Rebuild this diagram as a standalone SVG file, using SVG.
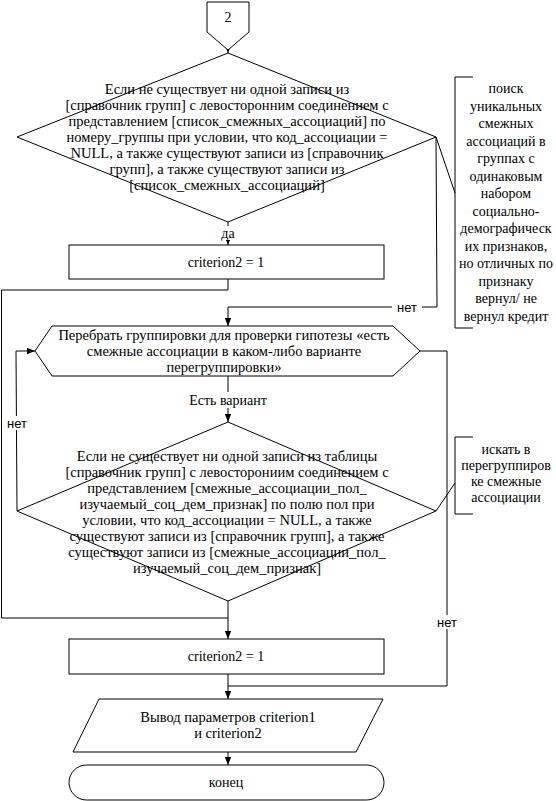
<svg xmlns="http://www.w3.org/2000/svg" width="556" height="801" viewBox="0 0 556 801">
<defs>
<marker id="ah" viewBox="0 0 8 8" refX="8" refY="4" markerWidth="8" markerHeight="8" markerUnits="userSpaceOnUse" orient="auto">
<path d="M0,0.8 L8,4 L0,7.2 Z" fill="#000"/>
</marker>
<style>
.s{fill:#fff;stroke:#000;stroke-width:1}
.l{fill:none;stroke:#000;stroke-width:1}
.t{font-family:"Liberation Serif","Times New Roman",serif;font-size:14.5px;fill:#000;text-anchor:middle}
.a{font-family:"Liberation Serif","Times New Roman",serif;font-size:14px;fill:#000;text-anchor:middle}
.n{font-family:"Liberation Sans",Arial,sans-serif;font-size:13px;fill:#000;text-anchor:middle}
.bg{fill:#fff;stroke:none}
</style>
</defs>
<rect width="556" height="801" fill="#fff"/>

<g id="connectors">
<path class="l" d="M228,44 V53" marker-end="url(#ah)"/>
<path class="l" d="M228,222 V245" marker-end="url(#ah)"/>
<path class="l" d="M228,279 V290 H1.5 V618 H228"/>
<path class="l" d="M228,601 V639" marker-end="url(#ah)"/>
<path class="l" d="M436,137 L437,307 H228 V326" marker-end="url(#ah)"/>
<path class="l" d="M228,376 V422" marker-end="url(#ah)"/>
<path class="l" d="M17,511 L16,351 H35" marker-end="url(#ah)"/>
<path class="l" d="M420,351 H447 V686 H228"/>
<path class="l" d="M228,674 V699" marker-end="url(#ah)"/>
<path class="l" d="M228,752 V765" marker-end="url(#ah)"/>
<path class="l" d="M436,137 L455,193"/>
<path class="l" d="M436,511 L455,483"/>
<rect class="bg" x="219" y="226" width="18" height="14"/>
<text class="a" x="228" y="238">да</text>
<rect class="bg" x="392" y="300" width="30" height="14"/>
<text class="n" x="407" y="312">нет</text>
<rect class="bg" x="178" y="392" width="100" height="16"/>
<text class="a" x="228" y="405">Есть вариант</text>
<rect class="bg" x="3" y="416" width="27" height="14"/>
<text class="n" x="17" y="428">нет</text>
<rect class="bg" x="433" y="615" width="28" height="14"/>
<text class="n" x="447" y="627">нет</text>
</g>

<g id="start">
<path class="s" d="M207,2 H249 V32 L228,50 L207,32 Z"/>
<text class="a" x="228" y="22">2</text>
</g>

<g id="cond1">
<path class="s" d="M228,53 L436,137 L228,222 L17,137 Z"/>
<text class="t" x="227" y="94">Если не существует ни одной записи из</text>
<text class="t" x="227" y="110">[справочник групп] с левосторонним соединением с</text>
<text class="t" x="227" y="126">представлением [список_смежных_ассоциаций] по</text>
<text class="t" x="227" y="142">номеру_группы при условии, что код_ассоциации =</text>
<text class="t" x="227" y="158">NULL,  а также существуют записи из [справочник</text>
<text class="t" x="227" y="174">групп], а также существуют записи  из</text>
<text class="t" x="227" y="190">[список_смежных_ассоциаций]</text>
</g>

<g id="note1">
<path class="l" d="M473,77 H455 V328 H473"/>
<text class="a" x="506" y="93">поиск</text>
<text class="a" x="506" y="110.5">уникальных</text>
<text class="a" x="506" y="128">смежных</text>
<text class="a" x="506" y="145.5">ассоциаций в</text>
<text class="a" x="506" y="163">группах с</text>
<text class="a" x="506" y="180.5">одинаковым</text>
<text class="a" x="506" y="198">набором</text>
<text class="a" x="506" y="215.5">социально-</text>
<text class="a" x="506" y="233">демографическ</text>
<text class="a" x="506" y="250.5">их признаков,</text>
<text class="a" x="506" y="268">но отличных по</text>
<text class="a" x="506" y="285.5">признаку</text>
<text class="a" x="506" y="303">вернул/ не</text>
<text class="a" x="506" y="320.5">вернул кредит</text>
</g>

<g id="box1">
<rect class="s" x="69" y="245" width="315" height="34"/>
<text class="a" x="226" y="267">criterion2 = 1</text>
</g>

<g id="loop">
<path class="s" d="M52,326 H393 L420,351 L393,376 H52 L35,351 Z"/>
<text class="t" x="224" y="340">Перебрать группировки для проверки гипотезы «есть</text>
<text class="t" x="224" y="356">смежные ассоциации в каком-либо варианте</text>
<text class="t" x="224" y="372">перегруппировки»</text>
</g>

<g id="cond2">
<path class="s" d="M228,422 L436,511 L228,601 L17,511 Z"/>
<text class="t" x="227" y="461">Если не существует ни одной записи из таблицы</text>
<text class="t" x="227" y="477">[справочник групп] с левосторониим соединением с</text>
<text class="t" x="227" y="493">представлением [смежные_ассоциации_пол_</text>
<text class="t" x="227" y="509">изучаемый_соц_дем_признак] по полю пол при</text>
<text class="t" x="227" y="525">условии, что код_ассоциации = NULL, а также</text>
<text class="t" x="227" y="541">существуют записи из [справочник групп], а также</text>
<text class="t" x="227" y="557">существуют записи из [смежные_ассоциации_пол_</text>
<text class="t" x="227" y="573">изучаемый_соц_дем_признак]</text>
</g>

<g id="note2">
<path class="l" d="M473,437 H455 V514 H473"/>
<text class="a" x="506" y="454">искать в</text>
<text class="a" x="506" y="470">перегруппиров</text>
<text class="a" x="506" y="486">ке  смежные</text>
<text class="a" x="506" y="502">ассоциации</text>
</g>

<g id="box2">
<rect class="s" x="69" y="639" width="315" height="35"/>
<text class="a" x="226" y="661">criterion2 = 1</text>
</g>

<g id="output">
<path class="s" d="M99,699 H383 L356,752 H73 Z"/>
<text class="t" x="228" y="722">Вывод параметров criterion1</text>
<text class="t" x="228" y="738">и criterion2</text>
</g>

<g id="end">
<rect class="s" x="69" y="765" width="315" height="35" rx="17.5"/>
<text class="a" x="226" y="787">конец</text>
</g>
</svg>
